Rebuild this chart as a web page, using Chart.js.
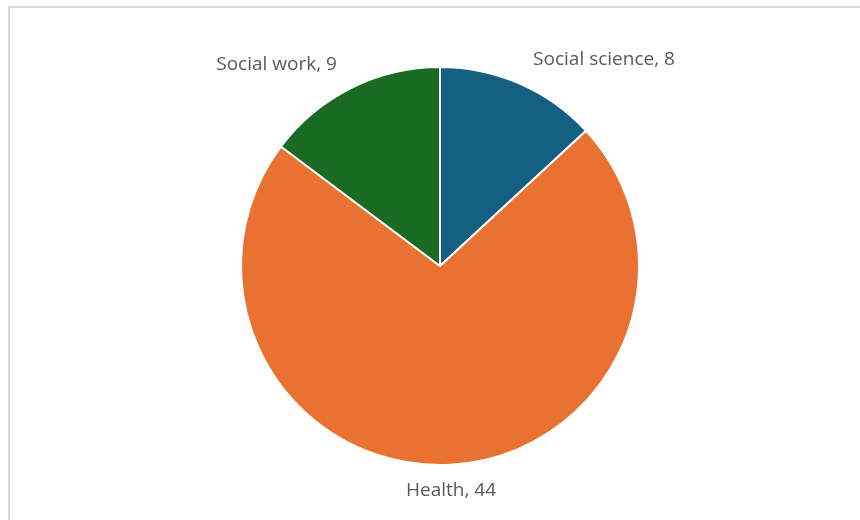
<!DOCTYPE html>
<html>
<head>
<meta charset="utf-8">
<script src="https://cdn.jsdelivr.net/npm/chart.js@4.4.0/dist/chart.umd.min.js"></script>
<style>
  html, body { margin: 0; padding: 0; background: #fff; }
  .frame {
    position: absolute; left: 8px; top: 6px; width: 860px; height: 520px;
    border-top: 2px solid #d9d9d9; border-left: 2px solid #d9d9d9;
  }
  canvas { position: absolute; left: 0; top: 0; }
</style>
</head>
<body>
<div class="frame"></div>
<canvas id="pie" width="860" height="520"></canvas>
<script>
'use strict'

const categories = ['Social science', 'Health', 'Social work'];
const counts = [8, 44, 9];
const sliceColors = ['#156082', '#E97132', '#196B24'];

// writes "name, value" just outside each slice
const outsideLabels = {
    id: 'outsideLabels',
    afterDatasetsDraw(chart){
        const c = chart.ctx;
        const meta = chart.getDatasetMeta(0);
        c.save();
        c.font = '19px "Open Sans", sans-serif';
        c.fillStyle = '#595959';
        meta.data.forEach((arc, i) => {
            const mid = (arc.startAngle + arc.endAngle) / 2;
            const r = arc.outerRadius + 16;
            const cos = Math.cos(mid), sin = Math.sin(mid);
            let x = arc.x + cos * r;
            const y = arc.y + sin * r;
            if(cos > 0.15){
                c.textAlign = 'left';
                x += 7;
            } else if(cos < -0.15){
                c.textAlign = 'right';
                x -= 7;
            } else {
                c.textAlign = 'center';
            }
            c.textBaseline = sin < -0.15 ? 'bottom' : (sin > 0.15 ? 'top' : 'middle');
            c.fillText(`${categories[i]}, ${counts[i]}`, x, y);
        });
        c.restore();
    }
};

new Chart(document.getElementById('pie'), {
    type: 'pie',
    data: {
        labels: categories,
        datasets: [{
            data: counts,
            backgroundColor: sliceColors,
            borderColor: '#ffffff',
            borderWidth: 2
        }]
    },
    options: {
        responsive: false,
        animation: false,
        layout: { padding: { left: 240, right: 220, top: 66, bottom: 54 } },
        plugins: {
            legend: { display: false },
            tooltip: { enabled: false }
        }
    },
    plugins: [outsideLabels]
});
</script>
</body>
</html>
